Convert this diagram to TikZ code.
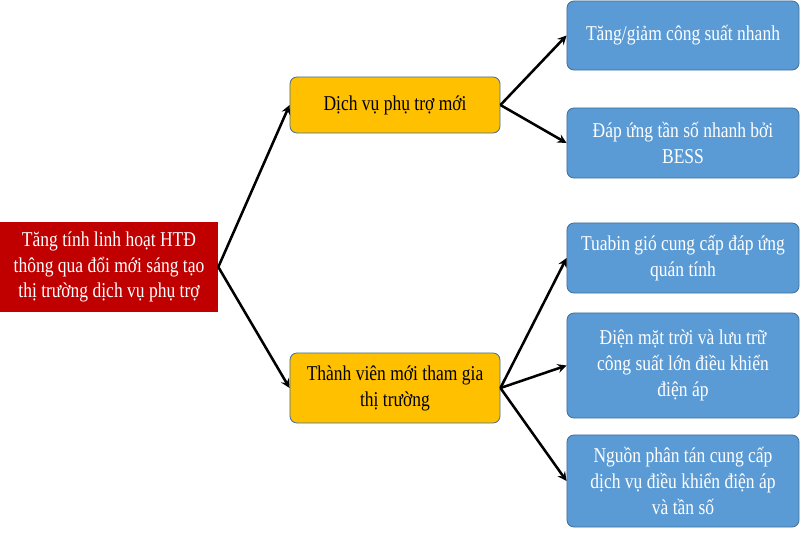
\documentclass[tikz,border=0pt]{standalone}
\usepackage{fontspec}
\setmainfont{Liberation Serif}[FakeStretch=0.83]
\definecolor{rootred}{HTML}{C00000}
\definecolor{midyellow}{HTML}{FFC000}
\definecolor{leafblue}{HTML}{5B9BD5}
\definecolor{edgeblue}{HTML}{41719C}
\tikzset{
	rootbox/.style={rectangle, fill=rootred, text=white, align=center, inner sep=0pt,
		minimum width=5.45cm, minimum height=2.25cm},
	midbox/.style={rectangle, rounded corners=5pt, draw=edgeblue, line width=0.6pt, fill=midyellow,
		align=center, inner sep=0pt, minimum width=5.25cm},
	leafbox/.style={rectangle, rounded corners=5pt, draw=edgeblue, line width=0.6pt, fill=leafblue,
		text=white, align=center, inner sep=0pt, minimum width=5.8cm},
	link/.style={->, line width=1.8pt}
}
\begin{document}
\begin{tikzpicture}[x=0.025cm, y=-0.025cm, >=stealth, font=\fontsize{15}{18.4}\selectfont]
			\useasboundingbox (0,0) rectangle (800,533);
			% goc
			\node[rootbox] (root) at (109,267) {T\u{a}ng tính linh hoạt HTĐ\\thông qua đổi mới sáng tạo\\thị trường dịch vụ phụ trợ};
			% nhanh giua
			\node[midbox, minimum height=1.4cm] (dv) at (395,105) {Dịch vụ phụ trợ mới};
			\node[midbox, minimum height=1.75cm] (tv) at (395,388) {Thành viên mới tham gia\\thị trường};
			% la
			\node[leafbox, minimum height=1.725cm] (tg) at (683,35.5) {Tăng/giảm công suất nhanh};
			\node[leafbox, minimum height=1.75cm] (bess) at (683,143) {Đáp ứng tần số nhanh bởi\\BESS};
			\node[leafbox, minimum height=1.75cm] (gio) at (683,258) {Tuabin gió cung cấp đáp ứng\\quán tính};
			\node[leafbox, minimum height=2.625cm] (mt) at (683,365.5) {Điện mặt trời và lưu trữ\\công suất lớn điều khiển\\điện áp};
			\node[leafbox, minimum height=2.3cm] (pt) at (683,481) {Nguồn phân tán cung cấp\\dịch vụ điều khiển điện áp\\và tần số};
			% mui ten
			\foreach \a/\b in {root/dv, root/tv, dv/tg, dv/bess, tv/gio, tv/mt, tv/pt}{
				\draw[link] (\a.east) -- (\b.west);
			}
		\end{tikzpicture}
\end{document}
